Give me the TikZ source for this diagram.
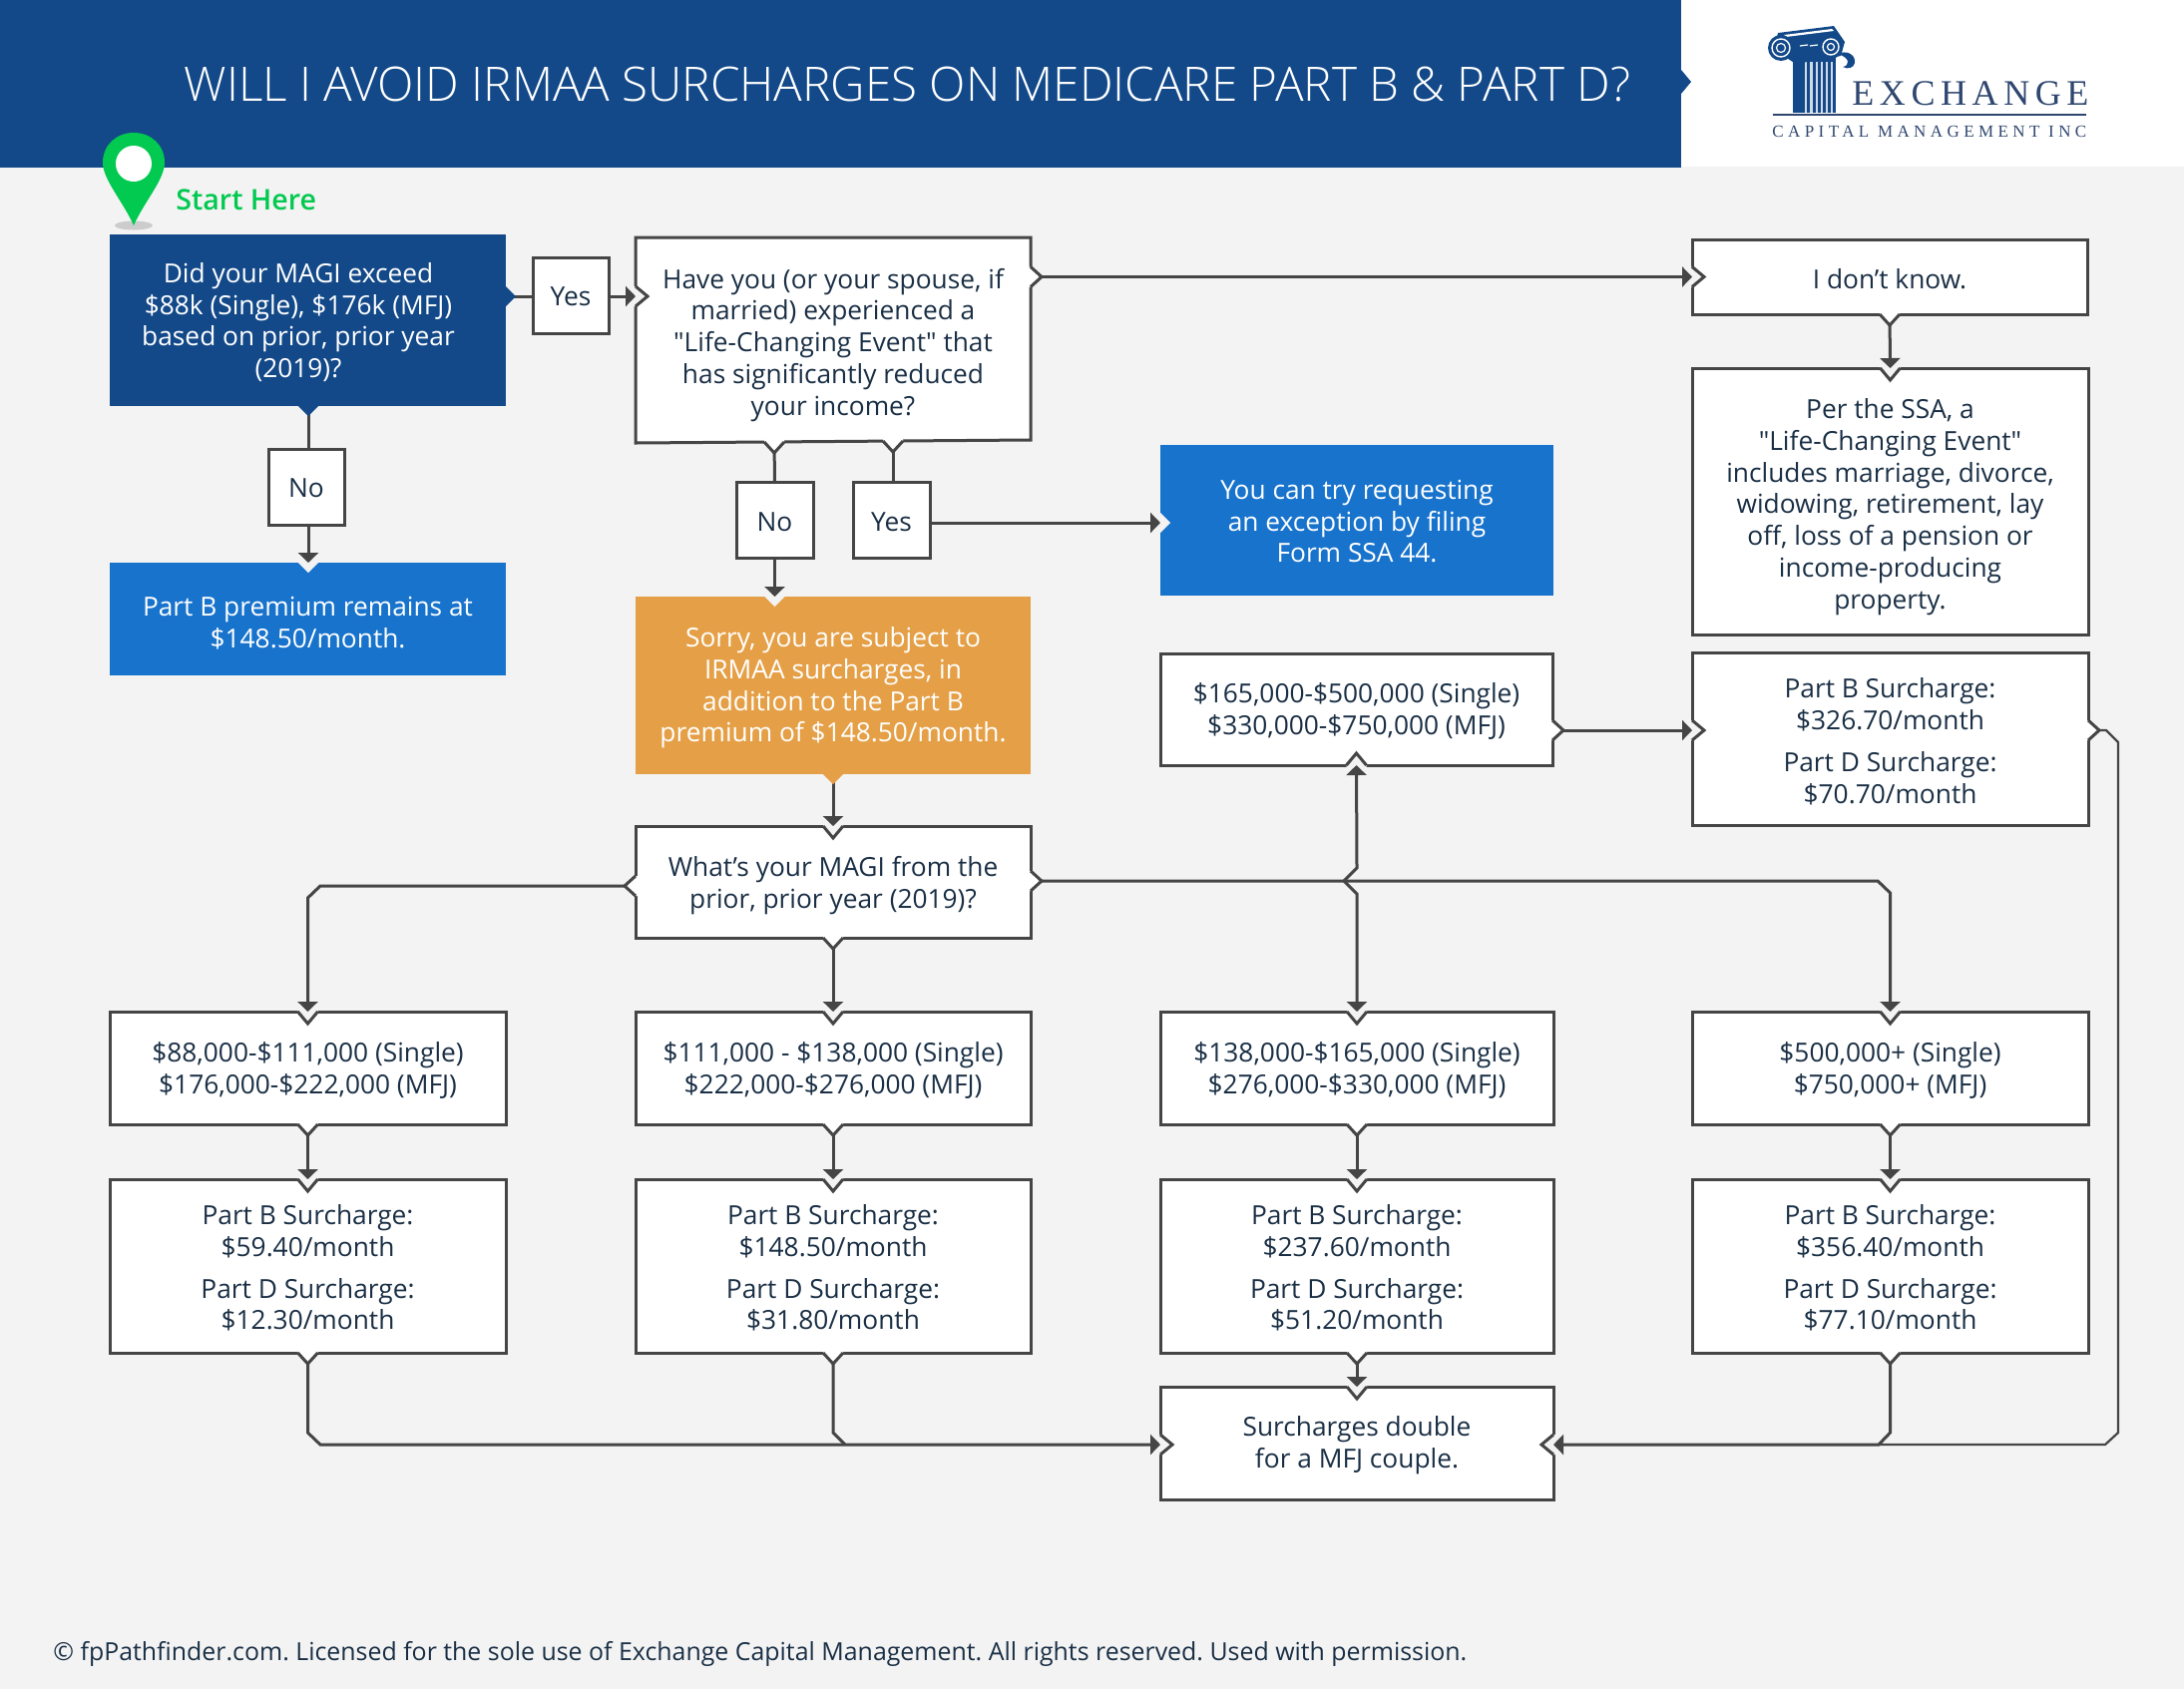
\documentclass[tikz,border=0pt]{standalone}
\usepackage{fontspec}
\usetikzlibrary{arrows.meta,calc}
\setmainfont{Open Sans}
\newfontfamily\plainq{Open Sans}
\newcommand\dq{{\plainq"}}
\newfontfamily\titlefont{Open Sans Light}
\newfontfamily\startfont{Open Sans Semibold}
\newfontfamily\logoA[LetterSpace=15.5]{Liberation Serif}
\newfontfamily\logoB[LetterSpace=26]{Liberation Serif}
\definecolor{bgc}{HTML}{F3F3F3}
\definecolor{navy}{HTML}{134989}
\definecolor{midblue}{HTML}{1873CC}
\definecolor{amber}{HTML}{E5A047}
\definecolor{ln}{HTML}{454545}
\definecolor{txt}{HTML}{1A2F45}
\definecolor{pincol}{HTML}{02C950}
\definecolor{logoc}{HTML}{2F4770}
\tikzset{
  basebox/.style={rectangle,inner sep=0pt,outer sep=0pt,align=center,
    font=\fontsize{13.15}{15.9}\selectfont},
  whitebox/.style={basebox,draw=ln,fill=white,line width=1.5pt,text=txt},
  plainbox/.style={basebox,text=txt},
  navybox/.style={basebox,fill=navy,text=white},
  bluebox/.style={basebox,fill=midblue,text=white},
  amberbox/.style={basebox,fill=amber,text=white},
  edge/.style={draw=ln,line width=1.5pt,line join=miter},
  arrowedge/.style={edge,-{Triangle[length=5pt,width=10pt]}},
  chev/.style={draw=ln,line width=1.5pt,line join=miter,fill=none},
}
% [text drop], name, style, x1, y1, x2, y2, text
\newcommand\bx[8][2.8pt]{\node[#3,minimum width={(#6-#4)*0.5pt},minimum height={(#7-#5)*0.5pt}]
  (#2) at ({(#4+#6)/2},{(#5+#7)/2}) {\vbox{\kern#1\hbox{\begin{tabular}{@{}c@{}}#8\end{tabular}}}};}
% incoming notch on a white box: point, rotation
\newcommand\notchW[2]{\begin{scope}[shift={#1},rotate=#2]
  \fill[bgc] (-10,-2)--(10,-2)--(10,0)--(0,12)--(-10,0)--cycle;
  \draw[chev] (-10,0)--(0,12)--(10,0);\end{scope}}
% incoming notch on a coloured box
\newcommand\notchC[2]{\begin{scope}[shift={#1},rotate=#2]
  \fill[bgc] (-10,-1)--(10,-1)--(10,0)--(0,10)--(-10,0)--cycle;\end{scope}}
% outgoing tab on a white box
\newcommand\tabW[2]{\begin{scope}[shift={#1},rotate=#2]
  \fill[white] (-10,-2)--(10,-2)--(10,0)--(0,11)--(-10,0)--cycle;
  \draw[chev] (-10,0)--(0,11)--(10,0);\end{scope}}
% outgoing tab on a coloured box: point, rotation, colour
\newcommand\tabC[3]{\begin{scope}[shift={#1},rotate=#2]
  \fill[#3] (-10,-1)--(10,-1)--(10,0)--(0,10)--(-10,0)--cycle;\end{scope}}
\begin{document}
\frenchspacing
\begin{tikzpicture}[x=0.5pt,y=-0.5pt]
\useasboundingbox (0,0) rectangle (2189,1693);
\fill[bgc] (0,0) rectangle (2189,1693);
% header
\fill[white] (1685,0) rectangle (2189,167);
\fill[navy] (0,0) rectangle (1685,168);
\fill[navy] (1685,70)--(1695,82)--(1685,94)--cycle;
\node[text=white,font=\titlefont\fontsize{23.8}{28}\selectfont,inner sep=0pt] (title) at (909.5,84)
  {WILL I AVOID IRMAA SURCHARGES ON MEDICARE PART B \& PART D?};
% logo
\fill[navy] (1797,58) rectangle (1840,113);
\foreach \x/\w in {1809/2,1814/3,1820/2,1825/2,1830/1.5,1835/1.5}{\fill[white!80!navy] (\x,62) rectangle ({\x+\w},113);}
\fill[navy] (1782,33)--(1838,26)--(1849,42)--(1845,56)--(1800,64)--(1778,50)--cycle;
\fill[white] (1788,35)--(1836,29)--(1838,31)--(1790,37)--cycle;
\foreach \x in {1804,1814,1824}{\draw[white,line width=0.6pt] (\x,46)--({\x+8},45);}
\fill[navy] (1785,48) circle (13);
\draw[white,line width=0.7pt] (1785,48) circle (9);
\draw[white,line width=0.6pt] (1785,48) circle (4.5);
\fill[navy] (1835,47) circle (12);
\draw[white,line width=0.7pt] (1835,47) circle (8);
\draw[white,line width=0.6pt] (1835,47) circle (3.5);
\fill[navy] (1842,54)..controls (1850,50) and (1860,54) .. (1859,63)..controls (1858,68) and (1852,70) .. (1847,67)..controls (1854,66) and (1855,58) .. (1842,54)--cycle;
\draw[draw=logoc,line width=1pt] (1776.5,115)--(2091,115);
\node[anchor=base west,text=logoc,inner sep=0pt,font=\logoA\fontsize{18}{20}\selectfont] (logoname) at (1856,105) {EXCHANGE};
\node[anchor=base west,text=logoc,inner sep=0pt,font=\logoB\fontsize{8.5}{10}\selectfont] (logosub) at (1776,137) {CAPITAL MANAGEMENT INC};
% pin
\fill[black!20] (134,226) ellipse (19 and 4.5);
\fill[pincol] (134,226) .. controls (124,203) and (103,180) .. (103,163) .. controls (103,145) and (117,133) .. (134,133)
  .. controls (151,133) and (165,145) .. (165,163) .. controls (165,180) and (144,203) .. (134,226) -- cycle;
\fill[white] (134,164) circle (18);
\node[anchor=base west,text=pincol,inner sep=0pt,font=\startfont\fontsize{14.3}{16}\selectfont] (start) at (176,210) {Start Here};
% boxes
\node[navybox,minimum width=198.5pt,minimum height=86pt] (a) at (308.5,321) {};
\node[plainbox,text=white] (atext) at (299,323) {Did your MAGI exceed\\\$88k (Single), \$176k (MFJ)\\based on prior, prior year\\(2019)?};
\bx[4.2pt]{yesa}{whitebox}{534}{258}{610}{334}{Yes}
\filldraw[draw=ln,fill=white,line width=1.5pt] (637,238)--(1033,238)--(1033,441)--(637,444)--cycle;
\bx[5.4pt]{have}{plainbox}{637}{238}{1033}{444}{Have you (or your spouse, if\\married) experienced a\\\dq Life-Changing Event\dq{} that\\has significantly reduced\\your income?}
\bx[5.6pt]{dk}{whitebox}{1696}{240}{2092}{315}{I don’t know.}
\bx[4.2pt]{noa}{whitebox}{269}{450}{345}{526}{No}
\bx[6.8pt]{prem}{bluebox}{110}{564}{507}{677}{Part B premium remains at\\\$148.50/month.}
\bx[5.6pt]{nob}{whitebox}{738}{483}{815}{559}{No}
\bx[5.6pt]{yesb}{whitebox}{855}{483}{932}{559}{Yes}
\bx[4.2pt]{try}{bluebox}{1163}{446}{1557}{597}{You can try requesting\\an exception by filing\\Form SSA 44.}
\bx{sorry}{amberbox}{637}{598}{1033}{776}{Sorry, you are subject to\\IRMAA surcharges, in\\addition to the Part B\\premium of \$148.50/month.}
\bx[6pt]{ssa}{whitebox}{1696}{369}{2093}{636}{Per the SSA, a\\\dq Life-Changing Event\dq\\includes marriage, divorce,\\widowing, retirement, lay\\off, loss of a pension or\\income-producing\\property.}
\bx[3.4pt]{cb}{whitebox}{1163}{655}{1556}{767}{\$165,000-\$500,000 (Single)\\\$330,000-\$750,000 (MFJ)}
\bx[5.6pt]{db}{whitebox}{1696}{654}{2093}{827}{Part B Surcharge:\\\$326.70/month\\[5pt]Part D Surcharge:\\\$70.70/month}
\bx[4.2pt]{magi}{whitebox}{637}{828}{1033}{940}{What’s your MAGI from the\\prior, prior year (2019)?}
\bx[4pt]{ra}{whitebox}{110}{1014}{507}{1127}{\$88,000-\$111,000 (Single)\\\$176,000-\$222,000 (MFJ)}
\bx[4pt]{rb}{whitebox}{637}{1014}{1033}{1127}{\$111,000 - \$138,000 (Single)\\\$222,000-\$276,000 (MFJ)}
\bx[4pt]{rc}{whitebox}{1163}{1014}{1557}{1127}{\$138,000-\$165,000 (Single)\\\$276,000-\$330,000 (MFJ)}
\bx[4pt]{rd}{whitebox}{1696}{1014}{2093}{1127}{\$500,000+ (Single)\\\$750,000+ (MFJ)}
\bx[4.9pt]{sa}{whitebox}{110}{1182}{507}{1356}{Part B Surcharge:\\\$59.40/month\\[5pt]Part D Surcharge:\\\$12.30/month}
\bx[4.9pt]{sb}{whitebox}{637}{1182}{1033}{1356}{Part B Surcharge:\\\$148.50/month\\[5pt]Part D Surcharge:\\\$31.80/month}
\bx[4.9pt]{sc}{whitebox}{1163}{1182}{1557}{1356}{Part B Surcharge:\\\$237.60/month\\[5pt]Part D Surcharge:\\\$51.20/month}
\bx[4.9pt]{sd}{whitebox}{1696}{1182}{2093}{1356}{Part B Surcharge:\\\$356.40/month\\[5pt]Part D Surcharge:\\\$77.10/month}
\bx{dbl}{whitebox}{1163}{1390}{1557}{1503}{Surcharges double\\for a MFJ couple.}
\node[anchor=base west,inner sep=0pt,text=txt,font=\fontsize{12.45}{16}\selectfont] (foot) at (53,1664.5)
  {© fpPathfinder.com. Licensed for the sole use of Exchange Capital Management. All rights reserved. Used with permission.};
% anchor points that are not node centres
\coordinate (aR) at (507,297);
\coordinate (aB) at (309,407);
\coordinate (noaT) at (309,450);
\coordinate (premT) at (309,564);
\coordinate (noaB) at (309,526);
\coordinate (haveL) at (637,297);
\coordinate (haveR) at (1033,277.5);
\coordinate (haveN) at (776,443);
\coordinate (haveY) at (895,442);
\coordinate (tryL) at (1163,524);
\coordinate (cbR) at (1556,732);
\coordinate (dbL) at (1696,732);
\coordinate (dbR) at (2093,732);
\coordinate (magiL) at (637,888);
\coordinate (magiR) at (1033,883);
\coordinate (jn) at (1347,883);
\coordinate (dblL) at (1163,1448);
\coordinate (dblR) at (1557,1448);
% notches
\notchW{(haveL)}{90}
\notchW{(dk.west)}{90}
\notchW{(ssa.north)}{0}
\notchC{(premT)}{0}
\notchC{(tryL)}{90}
\notchC{(sorry.north -| nob.south)}{0}
\notchW{(magi.north)}{0}
\notchW{(cb.south)}{180}
\notchW{(dbL)}{90}
\foreach \n in {ra,rb,rc,rd,sa,sb,sc,sd,dbl}{\notchW{(\n.north)}{0}}
\notchW{(dblL)}{90}
\notchW{(dblR)}{-90}
% connectors
\draw[edge] (aR) -- (yesa.west |- aR);
\draw[arrowedge] (yesa.east |- aR) -- (haveL);
\draw[edge] (aB) -- (noaT);
\draw[arrowedge] (noaB) -- (premT);
\draw[arrowedge] (haveR) -- (dk.west);
\draw[arrowedge] (dk.south) -- (ssa.north);
\draw[edge] (haveN) -- (nob.north);
\draw[edge] (haveY) -- (haveY |- yesb.north);
\draw[arrowedge] (yesb.east |- tryL) -- (tryL);
\draw[arrowedge] (nob.south) -- (sorry.north -| nob.south);
\draw[arrowedge] (sorry.south) -- (magi.north);
\draw[arrowedge] (magiL) -- (321,888) -- (308.5,900) -- (ra.north);
\draw[arrowedge] (magi.south) -- (rb.north);
\draw[arrowedge] (magiR) -- (1882,883) -- (1894.5,895) -- (rd.north);
\draw[arrowedge] (jn) -- (1360,870) -- (cb.south);
\draw[arrowedge] (jn) -- (1360,896) -- (rc.north);
\draw[arrowedge] (cbR) -- (dbL);
\foreach \r/\s in {ra/sa,rb/sb,rc/sc,rd/sd}{\draw[arrowedge] (\r.south) -- (\s.north);}
\draw[arrowedge] (sc.south) -- (dbl.north);
\draw[arrowedge] (sa.south) -- (308.5,1436) -- (321,1448) -- (dblL);
\draw[edge] (sb.south) -- (835,1436) -- (847,1448);
\draw[arrowedge] (sd.south) -- (1894.5,1436) -- (1883,1448) -- (dblR);
\draw[edge,line width=1.1pt] (dbR) -- (2111,732) -- (2123,744) -- (2123,1436) -- (2110,1448) -- (1883,1448);
% tabs
\tabC{(aR)}{90}{navy}
\tabC{(aB)}{0}{navy}
\tabC{(sorry.south)}{0}{amber}
\tabW{(haveR)}{90}
\tabW{(haveN)}{0}
\tabW{(haveY)}{0}
\tabW{(dk.south)}{0}
\tabW{(magi.south)}{0}
\tabW{(magiL)}{-90}
\tabW{(magiR)}{90}
\tabW{(cbR)}{90}
\tabW{(dbR)}{90}
\foreach \n in {ra,rb,rc,rd,sa,sb,sc,sd}{\tabW{(\n.south)}{0}}
\end{tikzpicture}
\end{document}
